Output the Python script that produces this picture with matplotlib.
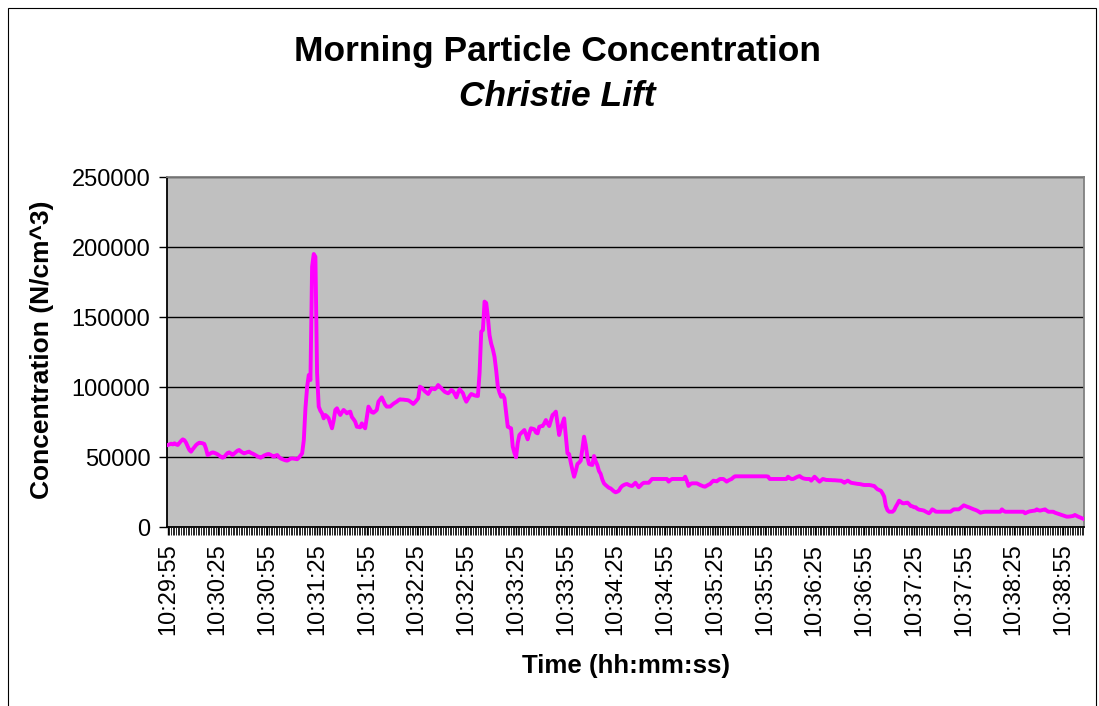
import matplotlib
matplotlib.use("Agg")
import matplotlib.pyplot as plt
from matplotlib.patches import Rectangle
import numpy as np

plt.rcParams['font.family'] = ['Liberation Sans', 'DejaVu Sans']

start_time = "10:29:55"
tick_labels = ["10:29:55", "10:30:25", "10:30:55", "10:31:25", "10:31:55", "10:32:25",
               "10:32:55", "10:33:25", "10:33:55", "10:34:25", "10:34:55", "10:35:25",
               "10:35:55", "10:36:25", "10:36:55", "10:37:25", "10:37:55", "10:38:25",
               "10:38:55"]
label_every = 30

# concentration, thousands of N/cm^3, one reading per second from 10:29:55
conc_k = [
    58.6, 59.0, 59.5, 59.0, 59.8, 59.0, 58.6, 60.0, 61.5, 62.6,
    62.0, 60.2, 57.5, 55.0, 53.8, 55.5, 57.0, 58.5, 59.5, 60.2,
    60.0, 59.8, 59.3, 56.0, 51.4, 52.0, 52.8, 53.3, 53.0, 52.5,
    51.9, 51.0, 50.2, 49.5, 50.0, 51.5, 52.8, 53.3, 52.5, 51.4,
    52.5, 53.5, 54.5, 55.0, 54.0, 53.2, 52.6, 53.0, 53.5, 53.8,
    53.0, 52.5, 51.9, 51.2, 50.5, 50.0, 49.5, 50.2, 51.0, 51.5,
    52.0, 52.1, 51.5, 50.8, 50.2, 51.0, 51.4, 50.0, 49.0, 48.5,
    48.0, 47.6, 47.4, 48.0, 48.8, 49.0, 48.8, 48.6, 48.4, 49.5,
    51.0, 52.6, 62.0, 85.0, 100.0, 108.6, 105.0, 186.0, 195.0, 193.0,
    110.0, 86.0, 83.0, 81.2, 77.6, 80.0, 79.0, 77.6, 74.0, 70.5,
    76.0, 83.6, 84.8, 82.0, 80.0, 82.0, 83.6, 82.5, 81.2, 82.0,
    82.4, 78.5, 77.0, 75.2, 71.6, 71.5, 71.2, 74.0, 72.0, 70.5,
    78.0, 86.0, 84.0, 82.0, 81.6, 82.5, 83.6, 89.5, 91.0, 92.6,
    90.0, 87.5, 86.0, 86.0, 86.0, 87.0, 88.0, 88.8, 89.5, 90.5,
    91.2, 91.0, 91.0, 90.8, 90.7, 90.5, 89.8, 88.8, 87.9, 89.0,
    90.5, 91.9, 100.2, 99.5, 98.4, 97.0, 96.0, 95.0, 97.0, 99.0,
    98.7, 98.4, 99.5, 101.4, 100.2, 99.0, 97.9, 96.6, 96.0, 95.5,
    96.5, 97.9, 97.0, 95.0, 92.6, 96.0, 98.4, 97.0, 95.5, 92.0,
    89.5, 91.5, 93.5, 95.0, 94.5, 94.0, 93.7, 93.6, 110.0, 139.5,
    140.7, 161.0, 160.0, 150.0, 137.0, 131.0, 127.0, 121.6, 112.0, 100.2,
    96.0, 93.0, 94.3, 92.0, 82.0, 71.6, 71.0, 70.5, 57.4, 53.0,
    49.8, 60.0, 65.7, 67.0, 68.1, 69.3, 66.0, 62.6, 67.0, 70.5,
    70.2, 69.8, 67.5, 66.9, 71.6, 72.0, 72.1, 74.0, 76.4, 74.0,
    72.1, 76.0, 80.0, 81.0, 82.4, 74.0, 65.7, 70.5, 74.0, 77.6,
    65.0, 52.6, 52.1, 46.0, 40.7, 35.9, 40.0, 45.0, 46.0, 47.4,
    56.0, 64.5, 58.6, 50.0, 45.0, 44.5, 44.3, 50.7, 47.0, 44.3,
    40.0, 38.0, 34.0, 31.2, 30.0, 29.0, 28.0, 27.6, 26.5, 25.5,
    24.8, 25.2, 25.9, 28.0, 29.3, 30.0, 30.5, 30.7, 30.0, 29.5,
    29.3, 30.5, 31.6, 30.0, 28.4, 29.5, 30.8, 31.6, 31.6, 31.6,
    31.6, 33.0, 34.3, 34.3, 34.3, 34.3, 34.3, 34.3, 34.3, 34.3,
    34.3, 34.3, 32.4, 33.5, 34.3, 34.3, 34.3, 34.3, 34.3, 34.3,
    34.3, 34.3, 35.9, 33.0, 29.3, 30.5, 31.2, 31.2, 31.2, 31.2,
    30.6, 30.0, 29.5, 29.0, 28.8, 29.5, 30.2, 30.7, 32.0, 33.1,
    32.8, 32.6, 33.5, 34.3, 34.3, 34.3, 33.4, 32.4, 33.2, 33.8,
    34.3, 35.4, 36.2, 36.2, 36.2, 36.2, 36.2, 36.2, 36.2, 36.2,
    36.2, 36.2, 36.2, 36.2, 36.2, 36.2, 36.2, 36.2, 36.2, 36.2,
    36.2, 36.2, 36.0, 34.3, 34.3, 34.3, 34.3, 34.3, 34.3, 34.3,
    34.3, 34.3, 34.3, 34.3, 35.9, 35.0, 34.3, 34.3, 34.8, 35.5,
    36.0, 36.4, 35.5, 34.8, 34.5, 34.3, 34.3, 34.3, 33.1, 34.5,
    35.9, 34.8, 33.5, 32.4, 33.4, 34.3, 34.0, 33.6, 33.6, 33.5,
    33.5, 33.4, 33.4, 33.3, 33.2, 33.1, 33.1, 32.4, 31.6, 32.4,
    33.1, 32.4, 31.6, 31.4, 31.2, 31.0, 30.8, 30.7, 30.5, 30.2,
    30.0, 30.0, 30.0, 30.0, 29.8, 29.5, 29.3, 28.0, 26.9, 26.4,
    25.9, 24.0, 21.7, 15.0, 12.0, 10.9, 10.9, 10.9, 12.0, 14.5,
    16.5, 18.8, 18.0, 17.0, 16.9, 17.2, 17.4, 16.4, 15.0, 14.8,
    14.1, 14.1, 13.0, 12.4, 12.2, 12.0, 11.7, 11.0, 10.4, 9.8,
    11.0, 12.6, 12.0, 11.0, 10.9, 10.9, 10.9, 10.9, 10.9, 10.9,
    10.9, 10.9, 10.9, 11.8, 12.6, 12.6, 12.6, 12.6, 13.5, 14.5,
    15.5, 15.0, 14.5, 14.1, 13.6, 13.1, 12.6, 12.2, 11.7, 11.0,
    10.2, 10.5, 10.8, 10.9, 10.9, 10.9, 10.9, 10.9, 10.9, 10.9,
    10.9, 10.9, 10.9, 12.6, 11.5, 10.9, 10.9, 10.9, 10.9, 10.9,
    10.9, 10.9, 10.9, 10.9, 10.9, 10.9, 10.9, 9.8, 10.4, 10.9,
    11.2, 11.4, 11.6, 11.7, 12.6, 12.0, 11.7, 12.0, 12.3, 12.6,
    11.7, 10.9, 10.9, 10.9, 10.9, 10.2, 9.8, 9.4, 9.0, 8.6,
    8.2, 7.8, 7.4, 7.4, 7.5, 7.7, 7.9, 8.6, 8.0, 7.4,
    6.9, 6.4, 5.9,
]
y_ticks = [0, 50000, 100000, 150000, 200000, 250000]

values = np.array(conc_k) * 1000.0
n = len(values)
x = np.arange(n)

W, H = 1099, 706
fig = plt.figure(figsize=(W / 100, H / 100), dpi=100)
fig.patch.set_facecolor("white")

# outer chart border
fig.add_artist(Rectangle((8 / W, -0.01), (1096 - 8) / W, 1 + 0.01 - 8 / H,
                         transform=fig.transFigure, fill=False,
                         edgecolor="black", linewidth=0.8))

left, right, top, bottom = 167, 1084, 177, 527
ax = fig.add_axes([left / W, 1 - bottom / H, (right - left) / W, (bottom - top) / H])
ax.set_facecolor("#C0C0C0")

ax.plot(x, values, color="#FF00FF", linewidth=2.8, solid_joinstyle="round", zorder=3)

ax.set_xlim(-0.5, n - 0.5)
ax.set_ylim(0, 250000)
ax.set_yticks(y_ticks)
ax.set_yticklabels([str(v) for v in y_ticks])
ax.yaxis.grid(True, color="black", linewidth=1.0)
ax.set_axisbelow(True)

ax.set_xticks(np.arange(0, n, label_every)[:len(tick_labels)])
ax.set_xticklabels(tick_labels, rotation=90)
ax.set_xticks(np.arange(0, n, 1), minor=True)

ax.tick_params(axis="x", which="major", length=6, width=1.0, direction="out",
               labelsize=17, pad=6, color="black")
ax.tick_params(axis="x", which="minor", length=6, width=0.6, direction="out", color="black")
ax.tick_params(axis="y", which="major", length=6, width=1.0, direction="out",
               labelsize=17, pad=6, color="black")

for s in ["left", "bottom"]:
    ax.spines[s].set_color("black")
    ax.spines[s].set_linewidth(1.3)
for s in ["top", "right"]:
    ax.spines[s].set_color("#808080")
    ax.spines[s].set_linewidth(1.3)

fig.text(558 / W, 1 - 52 / H, "Morning Particle Concentration", ha="center", va="center",
         fontsize=25.5, fontweight="bold")
fig.text(557 / W, 1 - 97 / H, "Christie Lift", ha="center", va="center",
         fontsize=25.5, fontweight="bold", fontstyle="italic")
fig.text(626 / W, 1 - 666 / H, "Time (hh:mm:ss)", ha="center", va="center",
         fontsize=18.6, fontweight="bold")
fig.text(42 / W, 1 - 350 / H, "Concentration (N/cm^3)", ha="center", va="center",
         rotation=90, fontsize=19, fontweight="bold")

fig.savefig("out.png", dpi=100)
